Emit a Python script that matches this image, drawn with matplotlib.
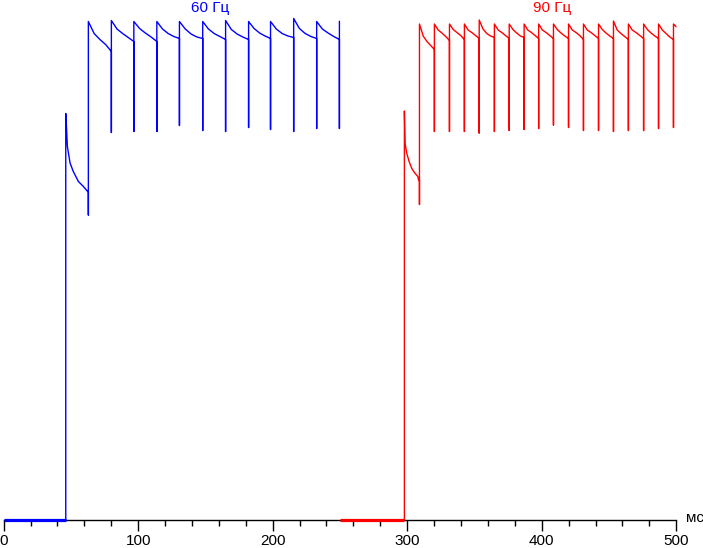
import matplotlib
matplotlib.use("Agg")
import matplotlib.pyplot as plt
from matplotlib.ticker import MultipleLocator

plt.rcParams['font.family'] = ['Liberation Sans', 'DejaVu Sans']

# --- data (time in ms, level in % of full scale) ---

# 60 Hz (blue): dark level, first step, then the sawtooth cycles
blue_dark_t = [0.0, 46.2]
blue_step_t = [46.2, 46.2, 46.6, 47.4, 49.4, 51.8, 55.6, 59.3, 62.5, 63.0, 63.0]
blue_step_v = [0.0, 81.3, 79.4, 74.7, 71.4, 69.7, 67.7, 66.7, 65.7, 65.7, 61.0]
blue_starts = [63.0, 80.1, 96.8, 113.9, 130.7, 148.0, 165.0, 182.1, 198.4, 215.6, 232.7]
blue_stop = 249.6
blue_peaks = [99.7, 99.9, 99.7, 99.7, 99.7, 99.7, 99.9, 99.7, 99.7, 100.3, 99.7]
blue_q1 = [97.3, 98.2, 98.3, 98.2, 98.2, 98.2, 98.1, 98.3, 98.2, 98.3, 98.2]
blue_mid = [96.1, 97.3, 97.4, 97.3, 97.2, 97.3, 97.2, 97.4, 97.3, 97.3, 97.4]
blue_q3 = [95.1, 96.5, 96.6, 96.7, 96.6, 96.7, 96.6, 96.8, 96.8, 96.7, 96.7]
blue_ends = [93.7, 95.7, 95.7, 96.3, 96.3, 96.1, 96.1, 96.3, 96.5, 96.3, 96.1]
blue_dips = [77.5, 77.7, 77.7, 78.9, 77.9, 77.7, 78.5, 78.1, 77.7, 78.3, 78.3]
blue_last = 99.7

# 90 Hz (red)
red_dark_t = [250.0, 297.9]
red_step_t = [297.9, 297.9, 298.2, 298.4, 299.7, 301.4, 303.4, 305.9, 307.9, 308.4, 309.1, 309.1]
red_step_v = [0.0, 81.8, 78.0, 75.3, 73.3, 71.7, 70.3, 69.3, 68.7, 68.0, 68.0, 63.1]
red_starts = [309.1, 320.2, 331.4, 342.5, 353.5, 364.8, 375.8, 386.9, 397.7,
              408.7, 419.9, 431.0, 442.2, 453.3, 464.4, 475.7, 486.8]
red_stop = 497.9
red_peaks = [99.2, 99.2, 99.2, 99.2, 100.0, 99.2, 99.2, 99.2, 99.2,
             99.2, 99.2, 99.2, 99.2, 99.8, 99.2, 99.2, 99.2]
red_q1 = [96.8, 98.0, 98.1, 98.0, 98.2, 98.0, 98.1, 98.0, 98.0,
          98.1, 98.0, 98.0, 98.1, 98.0, 98.0, 98.1, 98.0]
red_mid = [95.7, 97.4, 97.5, 97.5, 97.3, 97.5, 97.4, 97.5, 97.5,
           97.4, 97.5, 97.5, 97.4, 97.3, 97.5, 97.4, 97.3]
red_q3 = [94.9, 96.7, 96.9, 96.9, 96.8, 96.9, 96.8, 96.9, 96.9,
          96.8, 96.9, 96.9, 96.8, 96.7, 96.9, 96.8, 96.6]
red_ends = [94.1, 95.9, 96.1, 96.3, 96.5, 96.3, 96.5, 96.3, 96.3,
            96.3, 96.1, 96.3, 96.3, 96.1, 96.3, 96.3, 96.1]
red_dips = [77.7, 77.7, 77.7, 77.4, 77.7, 77.9, 78.1, 78.3, 79.0,
            78.5, 77.9, 77.9, 77.7, 77.9, 77.9, 78.3, 78.5]
red_last = [99.2, 98.7]
red_last_t = [497.9, 499.7]

xticks = [0, 100, 200, 300, 400, 500]


def cycles(starts, stop, peaks, q1, mid, q3, ends, dips):
    """Polyline through the read points of each refresh cycle."""
    t, v = [], []
    bounds = starts + [stop]
    for i in range(len(starts)):
        a, b = bounds[i], bounds[i + 1]
        d = b - a
        t += [a, a + 0.25 * d, a + 0.5 * d, a + 0.75 * d, b, b]
        v += [peaks[i], q1[i], mid[i], q3[i], ends[i], dips[i]]
    return t, v


bt, bv = cycles(blue_starts, blue_stop, blue_peaks, blue_q1, blue_mid,
                blue_q3, blue_ends, blue_dips)
bt = blue_step_t + bt + [blue_stop]
bv = blue_step_v + bv + [blue_last]

rt, rv = cycles(red_starts, red_stop, red_peaks, red_q1, red_mid,
                red_q3, red_ends, red_dips)
rt = red_step_t + rt + red_last_t
rv = red_step_v + rv + red_last

fig = plt.figure(figsize=(7.03, 5.48), dpi=100)
ax = fig.add_axes([3.6 / 703, 28 / 548, 672.7 / 703, 520 / 548])

ax.plot(blue_dark_t, [0, 0], color='#0000ff', lw=2.3, clip_on=False,
        solid_capstyle='butt', zorder=4)
ax.plot(red_dark_t, [0, 0], color='#ff0000', lw=2.3, clip_on=False,
        solid_capstyle='butt', zorder=4)
ax.plot(bt, bv, color='#0000ff', lw=1.0, clip_on=False, zorder=3)
ax.plot(rt, rv, color='#ff0000', lw=1.0, clip_on=False, zorder=3)

ax.set_xlim(0, 500)
ax.set_ylim(0, 104)

for s in ['left', 'right', 'top']:
    ax.spines[s].set_visible(False)
ax.spines['bottom'].set_linewidth(1.0)
ax.set_yticks([])
ax.set_xticks(xticks)
ax.xaxis.set_minor_locator(MultipleLocator(20))
ax.tick_params(axis='x', which='major', length=8, width=1.0, pad=2,
               labelsize=11, direction='out')
ax.tick_params(axis='x', which='minor', length=4, width=1.0, direction='out')

ax.text(153.5, 102.4, '60 Гц', color='#0000ff', fontsize=11,
        ha='center', va='center')
ax.text(407.8, 102.4, '90 Гц', color='#ff0000', fontsize=11,
        ha='center', va='center')
ax.text(507.4, 0.4, 'мс', color='black', fontsize=11,
        ha='left', va='center', clip_on=False)

fig.savefig('out.png', dpi=100)
